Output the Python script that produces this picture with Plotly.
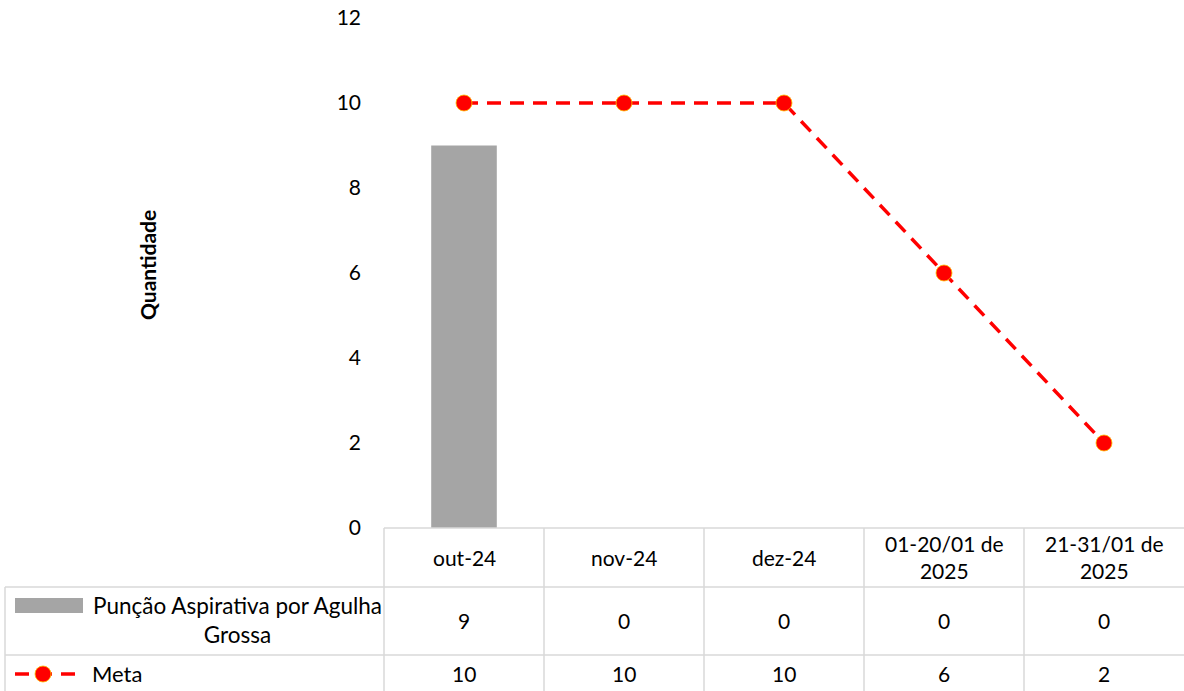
import plotly.graph_objects as go

categories = ["out-24", "nov-24", "dez-24", "01-20/01 de 2025", "21-31/01 de 2025"]
bar_name = "Punção Aspirativa por Agulha Grossa"
bar_values = [9, 0, 0, 0, 0]
meta_name = "Meta"
meta_values = [10, 10, 10, 6, 2]
y_title = "Quantidade"
y_ticks = [0, 2, 4, 6, 8, 10, 12]

W, H = 1184, 691
T, B = 18, 163
PH = H - T - B
X0 = 384
FONT = "Lato"
FS = 21
GRID = "#d9d9d9"

def py(p):
    return (H - B - p) / PH

def px(p):
    return p / W

fig = go.Figure()
fig.add_trace(go.Bar(x=categories, y=bar_values, name=bar_name,
                     marker=dict(color="#a5a5a5", line=dict(width=0)), width=0.41))
fig.add_trace(go.Scatter(x=categories, y=meta_values, name=meta_name, mode="lines+markers",
                         line=dict(color="#ff0000", width=3.5, dash="14px,9px"),
                         marker=dict(color="#ff0000", size=16, line=dict(color="#ffc000", width=0.8))))

shapes = []
annotations = []

def hline(x1, x2, yp):
    shapes.append(dict(type="line", xref="paper", yref="paper", x0=px(x1), x1=px(x2),
                       y0=py(yp), y1=py(yp), line=dict(color=GRID, width=1.5)))

def vline(xp, y1, y2):
    shapes.append(dict(type="line", xref="paper", yref="paper", x0=px(xp), x1=px(xp),
                       y0=py(y1), y1=py(y2), line=dict(color=GRID, width=1.5)))

hline(X0, W, 528)
hline(5, W, 587)
hline(5, W, 655)
for i in range(len(categories)):
    vline(X0 + i * 160, 528, H)
vline(5, 587, H)

def txt(x, xref, yp, text, xanchor="center", size=FS):
    annotations.append(dict(x=x, xref=xref, y=py(yp), yref="paper", text=text,
                            showarrow=False, font=dict(family=FONT, size=size, color="#000"),
                            xanchor=xanchor, yanchor="middle", align="center"))

for c in categories:
    txt(c, "x", 557, c.replace(" de ", " de<br>"))
for c, v in zip(categories, bar_values):
    txt(c, "x", 620, str(v))
for c, v in zip(categories, meta_values):
    txt(c, "x", 674, str(v))

# row labels with legend keys
txt(px(237), "paper", 620, bar_name.replace(" Grossa", "<br>Grossa"), size=22.5)
shapes.append(dict(type="rect", xref="paper", yref="paper", x0=px(15), x1=px(83),
                   y0=py(598), y1=py(613), fillcolor="#a5a5a5", line=dict(width=0)))
txt(px(90), "paper", 674, meta_name, xanchor="left", size=22)
shapes.append(dict(type="line", xref="paper", yref="paper", x0=px(15), x1=px(84),
                   y0=py(674), y1=py(674), line=dict(color="#ff0000", width=3.5, dash="14px,9px")))
shapes.append(dict(type="circle", xref="paper", yref="paper", x0=px(35), x1=px(51),
                   y0=py(666), y1=py(682), fillcolor="#ff0000", line=dict(color="#ffc000", width=0.8)))

annotations.append(dict(x=px(147), y=py(265), xref="paper", yref="paper", text="<b>" + y_title + "</b>",
                        textangle=-90, showarrow=False, font=dict(family=FONT, size=FS, color="#000"),
                        xanchor="center", yanchor="middle"))

fig.update_layout(
    width=W, height=H, margin=dict(l=0, r=0, t=T, b=B, autoexpand=False),
    paper_bgcolor="white", plot_bgcolor="white", showlegend=False,
    xaxis=dict(domain=[X0 / W, 1], range=[-0.5, 4.5], showticklabels=False, showgrid=False,
               zeroline=False, showline=False, ticks=""),
    yaxis=dict(range=[0, 12], tickvals=y_ticks, showgrid=False, zeroline=False, showline=False,
               ticks="", ticklabelstandoff=22,
               tickfont=dict(family=FONT, size=FS, color="#000")),
    shapes=shapes, annotations=annotations, font=dict(family=FONT),
)
fig.write_html("out.html", config={"displayModeBar": False},
               post_script="document.body.style.margin='0';document.body.style.overflow='hidden';")
